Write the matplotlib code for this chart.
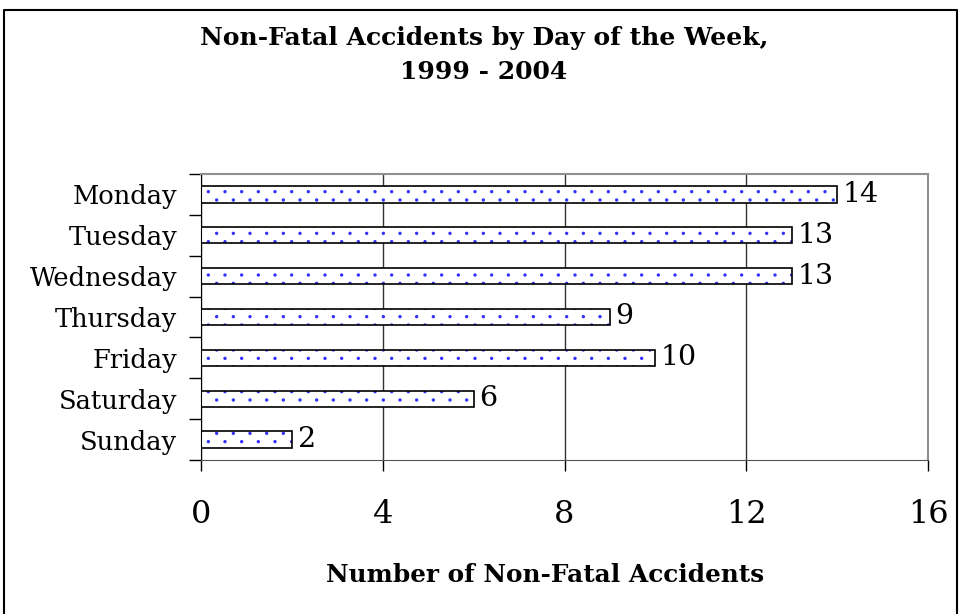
import numpy as np
import matplotlib
matplotlib.use("Agg")
import matplotlib.pyplot as plt
import matplotlib.hatch as mhatch
from matplotlib.path import Path
from matplotlib.lines import Line2D

days = ["Monday", "Tuesday", "Wednesday", "Thursday", "Friday", "Saturday", "Sunday"]
accidents = [14, 13, 13, 9, 10, 6, 2]
x_ticks = [0, 4, 8, 12, 16]


# sparse staggered dot fill like the old spreadsheet pattern
class SparseDots(mhatch.HatchPatternBase):
    def __init__(self, hatch, density):
        self.ncols = hatch.count('.') * density
        circ = Path.unit_circle()
        self.shape_vertices = circ.vertices
        self.shape_codes = circ.codes
        pts = []
        if self.ncols:
            nrows = 2 * self.ncols
            for r in range(nrows + 1):
                if r % 2 == 0:
                    cols = np.linspace(0, 1, self.ncols + 1)
                else:
                    cols = np.linspace(0.5 / self.ncols, 1 - 0.5 / self.ncols, self.ncols)
                pts += [(c, r / nrows) for c in cols]
        self.pts = np.array(pts).reshape(-1, 2)
        self.num_vertices = len(self.pts) * len(self.shape_vertices)

    def set_vertices_and_codes(self, vertices, codes):
        rad = 0.011
        parts = [self.shape_vertices * rad + p for p in self.pts]
        np.concatenate(parts, out=vertices)
        np.concatenate([self.shape_codes] * len(self.pts), out=codes)


mhatch._hatch_types = [SparseDots if t is mhatch.SmallFilledCircles else t
                       for t in mhatch._hatch_types]

plt.rcParams['font.family'] = ['DejaVu Serif']
plt.rcParams['hatch.linewidth'] = 0.8

fig = plt.figure(figsize=(9.6, 6.14), dpi=100)
ax = fig.add_axes([201 / 960, 1 - 460 / 614, 727 / 960, 286 / 614])

y = np.arange(len(days))
bar_h = 0.4

# dotted fill, then black outline on top
ax.barh(y, accidents, height=bar_h, color="white", edgecolor="#3030ff",
        hatch=".", linewidth=0, zorder=2)
ax.barh(y, accidents, height=bar_h, fill=False, edgecolor="black",
        linewidth=1.2, zorder=3)

for yi, v in zip(y, accidents):
    ax.annotate(str(v), (v, yi), xytext=(4, 0), textcoords="offset points",
                ha="left", va="center", fontsize=20.5)

ax.set_xlim(0, 16)
ax.set_ylim(len(days) - 0.5, -0.5)

ax.set_xticks(x_ticks)
ax.set_xticklabels([str(t) for t in x_ticks], fontsize=23)
ax.tick_params(axis="x", direction="out", length=8, width=1, pad=20)

ax.set_yticks(y)
ax.set_yticklabels(days, fontsize=18.5)
ax.tick_params(axis="y", which="major", length=0, pad=17)
ax.set_yticks(np.arange(len(days) + 1) - 0.5, minor=True)
ax.tick_params(axis="y", which="minor", direction="out", length=9, width=1)

ax.grid(axis="x", color="#333333", linewidth=1, zorder=1)
ax.set_axisbelow(True)

ax.spines["top"].set_color("#909090")
ax.spines["right"].set_color("#909090")
ax.spines["top"].set_linewidth(1.5)
ax.spines["right"].set_linewidth(1.5)
ax.spines["left"].set_color("black")
ax.spines["bottom"].set_color("#555555")

fig.text(484 / 960, 1 - 38 / 614, "Non-Fatal Accidents by Day of the Week,",
         ha="center", va="center", fontsize=18, fontweight="bold")
fig.text(484 / 960, 1 - 72 / 614, "1999 - 2004",
         ha="center", va="center", fontsize=18, fontweight="bold")
fig.text(545 / 960, 1 - 575 / 614, "Number of Non-Fatal Accidents",
         ha="center", va="center", fontsize=17.8, fontweight="bold")

# outer chart border
fx = [4 / 960, 4 / 960, 957 / 960, 957 / 960]
fy = [-0.01, 1 - 10 / 614, 1 - 10 / 614, -0.01]
fig.add_artist(Line2D(fx, fy, color="black", linewidth=1.5,
                      transform=fig.transFigure))

fig.savefig("out.png", dpi=100)
